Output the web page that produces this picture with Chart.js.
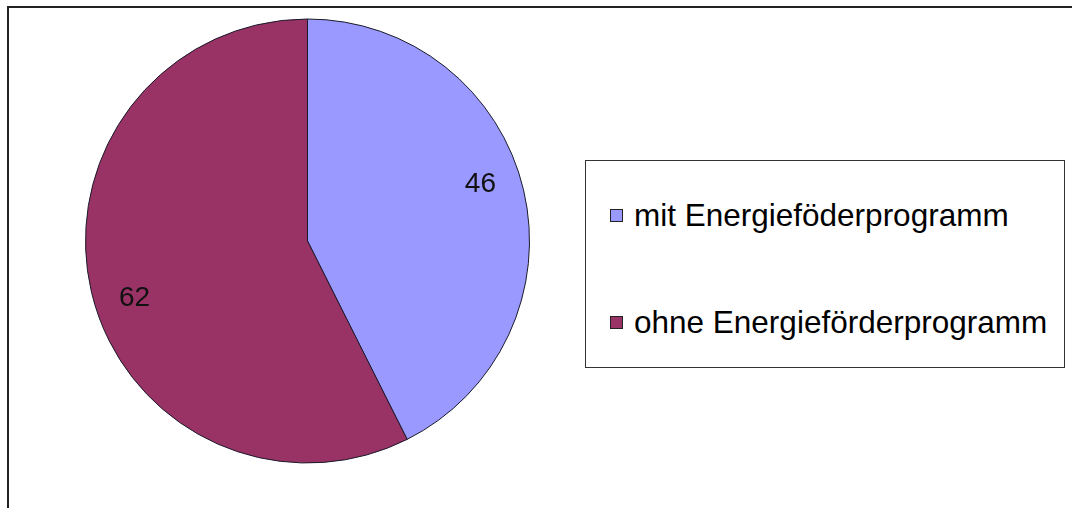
<!DOCTYPE html>
<html>
<head>
<meta charset="utf-8">
<script src="https://cdn.jsdelivr.net/npm/chart.js@4/dist/chart.umd.min.js"></script>
<style>
  html, body { margin:0; padding:0; background:#fff; width:1072px; height:508px; overflow:hidden; }
  #frame { position:absolute; left:7px; top:6px; width:1080px; height:520px; border:2px solid #222; box-sizing:border-box; }
  #wrap { position:absolute; left:0; top:0; width:1072px; height:508px; }
  #legend { position:absolute; left:585px; top:160px; width:480px; height:208px; border:1.5px solid #333; box-sizing:border-box; background:#fff;
            font-family:"Liberation Sans", Arial, sans-serif; font-size:31.5px; color:#000; }
  .item { position:absolute; left:24px; display:flex; align-items:center; white-space:nowrap; }
  .sw { width:11px; height:11px; border:1px solid #222; margin-right:11px; }
</style>
</head>
<body>
<div id="frame"></div>
<div id="wrap"><canvas id="pie" width="1072" height="508"></canvas></div>
<div id="legend"></div>
<script>
// data
const labels = ['mit Energieföderprogramm', 'ohne Energieförderprogramm'];
const values = [46, 62];
const colors = ['#9999ff', '#993366'];

// legend in html, same labels/colours
const legendEl = document.getElementById('legend');
labels.forEach((l, i) => {
  const d = document.createElement('div');
  d.className = 'item';
  d.style.top = (i === 0 ? 36 : 143) + 'px';
  d.innerHTML = `<span class="sw" style="background:${colors[i]}"></span><span>${l}</span>`;
  legendEl.appendChild(d);
});

// value labels inside the slices
const valueLabels = {
  id: 'valueLabels',
  afterDatasetsDraw(chart) {
    const ctx = chart.ctx;
    const meta = chart.getDatasetMeta(0);
    ctx.save();
    ctx.font = '28px "Liberation Sans", Arial, sans-serif';
    ctx.fillStyle = '#111';
    ctx.textAlign = 'center';
    ctx.textBaseline = 'middle';
    meta.data.forEach((arc, i) => {
      const { x, y, startAngle, endAngle, outerRadius } = arc.getProps(['x','y','startAngle','endAngle','outerRadius'], true);
      const mid = (startAngle + endAngle) / 2 - 0.085;
      const r = outerRadius * 0.82;
      ctx.fillText(String(values[i]), x + Math.cos(mid) * r, y + Math.sin(mid) * r);
    });
    ctx.restore();
  }
};

new Chart(document.getElementById('pie'), {
  type: 'pie',
  data: {
    labels,
    datasets: [{ data: values, backgroundColor: colors, borderColor: '#1a1a2a', borderWidth: 1 }]
  },
  options: {
    responsive: false,
    animation: false,
    layout: { padding: { left: 85, right: 542, top: 18, bottom: 44 } },
    plugins: { legend: { display: false }, tooltip: { enabled: false } }
  },
  plugins: [valueLabels]
});
</script>
</body>
</html>
